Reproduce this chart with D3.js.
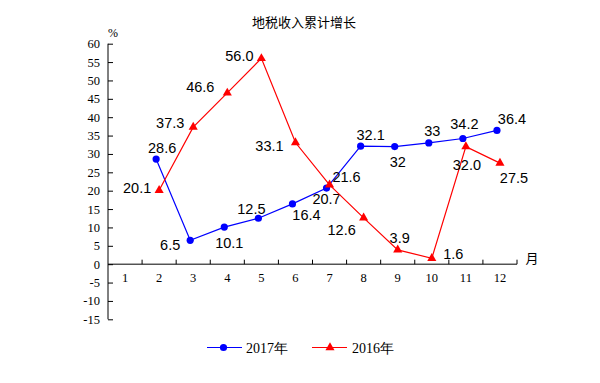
<!DOCTYPE html>
<html><head><meta charset="utf-8">
<script src="https://cdn.jsdelivr.net/npm/d3@7"></script>
<style>body{margin:0;background:#fff}svg{display:block}</style>
</head><body>
<script>
const title = "地税收入累计增长";
const months = [1,2,3,4,5,6,7,8,9,10,11,12];
const monthsData = [2,3,4,5,6,7,8,9,10,11,12];
const s2017 = [28.6,6.5,10.1,12.5,16.4,20.7,32.1,32,33,34.2,36.4];
const s2016 = [20.1,37.3,46.6,56.0,33.1,21.6,12.6,3.9,1.6,32.0,27.5];
const yTicks = [-15,-10,-5,0,5,10,15,20,25,30,35,40,45,50,55,60];
const seriesNames = ["2017年","2016年"];
// label offsets (layout only)
const off2017 = [[6,-6],[-20,10],[5,21],[-7,-4.5],[14,16],[0,16],[10,-6],[3,20],[3.5,-6.6],[1.5,-10],[15,-6]];
const off2016 = [[-22,2.5],[-23,1],[-27,-1],[-22,3],[-26,8],[17,-3],[-22,17],[2,-7],[21.5,0.5],[1,23],[14,20]];

const W=600,H=383;
const svg=d3.select("body").append("svg").attr("width",W).attr("height",H);
const x=d3.scaleBand().domain(months).range([108,517]).padding(0);
const y=d3.scaleLinear().domain([-15,60]).range([319.3,43.7]);
const cx=m=>x(m)+x.bandwidth()/2;
const serif="'Liberation Serif','Times New Roman',serif";
const sans="'Liberation Sans',Arial,sans-serif";

svg.append("text").attr("x",304).attr("y",27).attr("text-anchor","middle")
  .attr("font-family","'Noto Sans CJK SC',sans-serif").attr("font-size",13).text(title);
svg.append("text").attr("x",113).attr("y",37).attr("text-anchor","middle")
  .attr("font-family",serif).attr("font-size",12).text("%");

// y axis
const ya=svg.append("g").attr("transform","translate(108,0)")
  .call(d3.axisLeft(y).tickValues(yTicks).tickSize(-5).tickPadding(8).tickFormat(d=>String(d)));
ya.select(".domain").attr("d",`M0,${y(-15)}V${y(60)}`).attr("stroke","#000");
ya.selectAll(".tick line").attr("stroke","#000");
ya.selectAll("text").attr("font-family",serif).attr("font-size",12.5).attr("fill","#000");

// x axis at zero
const y0=y(0);
const xa=svg.append("g");
xa.append("line").attr("x1",108).attr("x2",517).attr("y1",y0).attr("y2",y0).attr("stroke","#000");
xa.selectAll("line.t").data(months).enter().append("line").attr("class","t")
  .attr("x1",m=>x(m)+x.bandwidth()).attr("x2",m=>x(m)+x.bandwidth())
  .attr("y1",y0).attr("y2",y0-4.5).attr("stroke","#000");
xa.selectAll("text").data(months).enter().append("text")
  .attr("x",m=>cx(m)).attr("y",y0+18).attr("text-anchor","middle")
  .attr("font-family",serif).attr("font-size",12.5).text(d=>d);
svg.append("text").attr("x",532).attr("y",263).attr("text-anchor","middle")
  .attr("font-family","'Noto Sans CJK SC',sans-serif").attr("font-size",13).text("月");

const tri=d3.symbol().type(d3.symbolTriangle).size(36);

function series(vals,color,dxp,marker,offs,fmt){
  const pts=vals.map((v,i)=>[cx(monthsData[i])+dxp,y(v)]);
  svg.append("path").attr("d",d3.line()(pts)).attr("fill","none").attr("stroke",color).attr("stroke-width",1.2);
  const g=svg.append("g");
  pts.forEach(p=>{
    if(marker==="circle") g.append("circle").attr("cx",p[0]).attr("cy",p[1]).attr("r",3.6).attr("fill",color);
    else g.append("path").attr("d",tri()).attr("transform",`translate(${p[0]},${p[1]})`).attr("fill",color);
  });
  vals.forEach((v,i)=>{
    svg.append("text").attr("x",pts[i][0]+offs[i][0]).attr("y",pts[i][1]+offs[i][1])
      .attr("text-anchor","middle").attr("font-family",sans).attr("font-size",14.5).attr("fill","#000").text(fmt(v));
  });
}
series(s2017,"#0000ff",-3,"circle",off2017,v=>String(v));
series(s2016,"#ff0000",0,"tri",off2016,v=>v.toFixed(1));

// legend
const lg=svg.append("g");
lg.append("line").attr("x1",207).attr("x2",242).attr("y1",347.5).attr("y2",347.5).attr("stroke","#0000ff").attr("stroke-width",1.2);
lg.append("circle").attr("cx",223.5).attr("cy",347.5).attr("r",3.6).attr("fill","#0000ff");
lg.append("text").attr("x",246).attr("y",352.5).attr("font-family",serif).attr("font-size",14).text(seriesNames[0]);
lg.append("line").attr("x1",312).attr("x2",347).attr("y1",347.5).attr("y2",347.5).attr("stroke","#ff0000").attr("stroke-width",1.2);
lg.append("path").attr("d",tri()).attr("transform","translate(330,347.5)").attr("fill","#ff0000");
lg.append("text").attr("x",352).attr("y",352.5).attr("font-family",serif).attr("font-size",14).text(seriesNames[1]);
</script>
</body></html>
